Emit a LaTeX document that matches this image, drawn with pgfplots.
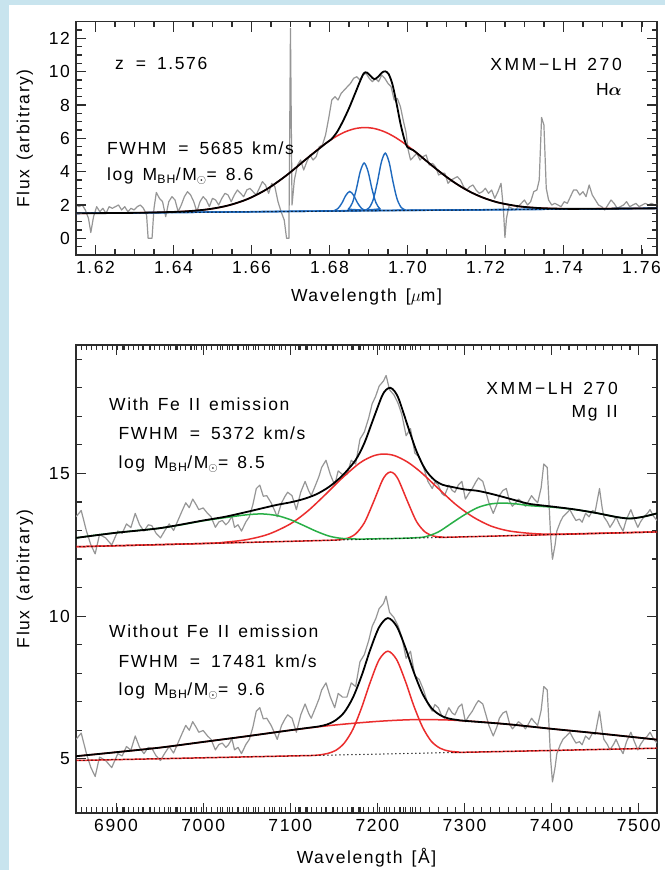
\documentclass[border=0pt]{standalone}
\usepackage{amsmath}
\usepackage{fontspec}
\setmainfont{Liberation Sans}[LetterSpace=9,WordSpace=1.4]
\usepackage{pgfplots}
\usepackage{pgfplotstable}
\pgfplotsset{compat=1.18}
\definecolor{bgblue}{RGB}{200,228,238}
\definecolor{spec}{RGB}{150,150,150}
\definecolor{fitred}{RGB}{235,45,45}
\definecolor{fitblue}{RGB}{30,105,190}
\definecolor{fitgreen}{RGB}{40,175,70}
\definecolor{axc}{RGB}{45,45,45}
\newcommand\F{\fontsize{17.5bp}{21bp}\selectfont}
\newcommand\eq{\hspace{12bp}=\hspace{11bp}}
\newcommand\eqr{=\hspace{9bp}}
\newcommand\wide[1]{{\addfontfeatures{LetterSpace=15}#1}}
\tikzset{tk/.style={draw=axc, line width=1.1bp}}

\pgfplotsset{idl/.style={
  scale only axis, anchor=south west, width=581bp,
  axis line style={draw=axc, line width=1.1bp},
  major tick length=10bp, minor tick length=5.5bp,
  tick style={draw=axc, line width=1.1bp},
  tick label style={font=\F},
  label style={font=\F},
  scaled ticks=false,
  /pgf/number format/assume math mode=true,
  xlabel style={anchor=center},
  ylabel style={anchor=center},
},
contdot/.style={black, line width=1.5bp, line cap=round, dash pattern=on 0bp off 4bp},
}

% ---------------- top panel data ----------------
\pgfplotstableread{
x y
1.6150 2.0
1.6158 1.9
1.6166 2.0
1.6174 1.7
1.6182 1.2
1.6188 0.35
1.6195 1.3
1.6203 1.9
1.6211 1.6
1.6219 1.8
1.6227 1.5
1.6235 1.9
1.6243 1.8
1.6251 1.9
1.6259 2.0
1.6267 1.7
1.6275 1.9
1.6283 1.6
1.6291 1.8
1.6299 1.7
1.6307 1.9
1.6315 2.0
1.6323 1.8
1.6331 1.4
1.6335 0.0
1.6345 0.0
1.6350 1.8
1.6356 2.75
1.6364 2.4
1.6372 2.2
1.6380 1.3
1.6388 2.2
1.6396 2.5
1.6404 2.3
1.6412 1.6
1.6420 2.0
1.6428 2.5
1.6436 2.8
1.6444 2.6
1.6452 2.2
1.6460 1.6
1.6468 2.2
1.6476 2.5
1.6484 2.3
1.6492 1.9
1.6500 2.4
1.6508 2.3
1.6516 2.0
1.6524 2.4
1.6532 2.7
1.6540 2.6
1.6548 2.2
1.6556 2.6
1.6564 2.9
1.6572 2.7
1.6580 2.5
1.6588 2.9
1.6596 3.0
1.6604 2.8
1.6612 2.6
1.6620 3.0
1.6628 3.4
1.6636 3.2
1.6644 2.7
1.6652 3.3
1.6660 3.1
1.6668 2.2
1.6676 1.6
1.6684 1.1
1.6690 0.0
1.6696 0.0
1.6700 12.6
1.6704 2.0
1.6710 3.5
1.6718 4.4
1.6726 4.7
1.6734 4.1
1.6742 4.6
1.6750 5.0
1.6758 4.7
1.6766 4.9
1.6774 5.5
1.6782 5.6
1.6790 6.2
1.6798 7.2
1.6806 8.3
1.6814 8.5
1.6822 8.3
1.6830 8.7
1.6838 8.9
1.6846 9.1
1.6854 9.3
1.6862 9.6
1.6870 9.7
1.6878 9.5
1.6886 9.8
1.6894 9.9
1.6902 9.6
1.6910 9.4
1.6918 9.6
1.6926 9.4
1.6934 9.8
1.6942 9.6
1.6950 9.3
1.6958 9.1
1.6966 8.3
1.6974 8.4
1.6982 7.9
1.6990 7.0
1.6996 6.4
1.7002 5.3
1.7008 4.7
1.7016 4.9
1.7024 5.1
1.7032 4.7
1.7040 4.9
1.7048 5.0
1.7056 4.4
1.7064 4.5
1.7072 4.3
1.7080 3.8
1.7088 3.9
1.7096 3.9
1.7104 3.3
1.7112 3.5
1.7120 3.6
1.7128 3.7
1.7136 3.5
1.7144 3.1
1.7152 2.9
1.7160 3.1
1.7168 3.2
1.7176 2.9
1.7184 2.7
1.7192 2.8
1.7200 3.0
1.7208 2.7
1.7216 2.9
1.7224 2.4
1.7232 2.8
1.7240 3.3
1.7246 1.8
1.7250 0.05
1.7254 1.2
1.7260 1.9
1.7268 1.8
1.7276 1.7
1.7284 1.9
1.7292 2.1
1.7300 2.3
1.7308 2.0
1.7316 2.2
1.7324 2.8
1.7332 2.9
1.7338 3.5
1.7344 7.25
1.7350 6.8
1.7356 3.0
1.7362 2.3
1.7370 2.0
1.7378 2.1
1.7386 2.0
1.7394 1.9
1.7402 2.2
1.7410 2.1
1.7418 2.5
1.7426 2.9
1.7434 2.9
1.7442 2.6
1.7450 2.8
1.7458 2.5
1.7466 3.2
1.7474 2.6
1.7482 2.3
1.7490 2.0
1.7498 1.9
1.7506 1.7
1.7514 2.0
1.7522 2.3
1.7530 2.1
1.7538 1.8
1.7546 1.9
1.7554 2.0
1.7562 2.2
1.7570 1.9
1.7578 2.0
1.7586 2.1
1.7594 1.9
1.7602 2.0
1.7610 2.1
1.7618 2.0
1.7626 2.1
1.7634 2.0
1.7640 2.05
}\specA

\pgfplotstableread{
x y
1.615 1.50
1.630 1.53
1.639 1.576
1.6415 1.60
1.644 1.632
1.6465 1.68
1.649 1.747
1.6515 1.841
1.654 1.97
1.6565 2.139
1.659 2.357
1.6615 2.63
1.664 2.96
1.6665 3.347
1.669 3.784
1.6715 4.258
1.674 4.75
1.6765 5.236
1.679 5.689
1.6815 6.082
1.684 6.386
1.6865 6.579
1.689 6.649
1.6915 6.589
1.694 6.406
1.6965 6.112
1.699 5.729
1.7015 5.286
1.704 4.81
1.7065 4.328
1.709 3.864
1.7115 3.437
1.714 3.06
1.7165 2.74
1.719 2.477
1.7215 2.269
1.724 2.11
1.7265 1.992
1.729 1.908
1.7315 1.852
1.734 1.814
1.7365 1.791
1.739 1.778
1.744 1.769
1.764 1.80
}\redA

\pgfplotstableread{
x y
1.615 1.50
1.630 1.53
1.639 1.576
1.644 1.632
1.649 1.747
1.654 1.97
1.659 2.357
1.664 2.96
1.669 3.784
1.674 4.75
1.679 5.689
1.6805 5.95
1.682 6.40
1.6835 7.05
1.685 7.80
1.6865 8.65
1.6878 9.40
1.6888 9.90
1.6896 9.95
1.6905 9.75
1.6915 9.55
1.6925 9.70
1.6935 9.95
1.6943 10.02
1.6952 9.85
1.6962 9.20
1.6972 8.10
1.6982 6.90
1.6992 5.95
1.7000 5.47
1.7015 5.286
1.704 4.81
1.7065 4.328
1.709 3.864
1.7115 3.437
1.714 3.06
1.7165 2.74
1.719 2.477
1.7215 2.269
1.724 2.11
1.729 1.908
1.734 1.814
1.739 1.778
1.744 1.769
1.764 1.80
}\blackA

\pgfplotstableread{
x y
1.615 1.50
1.6802 1.636
1.6812 1.666
1.6822 1.793
1.6832 2.118
1.6842 2.576
1.6852 2.811
1.6862 2.580
1.6872 2.126
1.6882 1.805
1.6892 1.682
1.6902 1.655
1.764 1.80
}\nA

\pgfplotstableread{
x y
1.615 1.50
1.6839 1.661
1.6849 1.767
1.6859 2.138
1.6869 2.959
1.6879 4.008
1.6889 4.519
1.6899 4.012
1.6909 2.967
1.6919 2.150
1.6929 1.783
1.6939 1.681
1.764 1.80
}\nB

\pgfplotstableread{
x y
1.615 1.50
1.6883 1.655
1.6893 1.696
1.6903 1.869
1.6913 2.381
1.6923 3.382
1.6933 4.560
1.6943 5.110
1.6953 4.564
1.6963 3.390
1.6973 2.393
1.6983 1.885
1.6993 1.716
1.7003 1.679
1.764 1.80
}\nC

% ---------------- bottom panel data ----------------
\pgfplotstableread{
x u l
6854 13.48 5.68
6860 13.70 5.90
6866 12.98 5.18
6871 12.50 4.70
6876 12.18 4.38
6881 12.86 5.06
6888 12.74 4.94
6895 12.49 4.69
6902 12.98 5.18
6907 12.90 5.10
6912 13.23 5.43
6917 13.10 5.30
6922 13.60 5.80
6927 13.20 5.40
6932 12.98 5.18
6937 13.20 5.40
6941 13.17 5.37
6946 12.90 5.10
6951 12.74 4.94
6956 13.00 5.20
6961 13.23 5.43
6966 13.00 5.20
6971 13.35 5.55
6976 13.70 5.90
6980 13.97 6.17
6984 13.80 6.00
6988 14.10 6.30
6992 13.90 6.10
6995 13.73 5.93
7000 13.79 5.99
7005 13.60 5.80
7009 13.48 5.68
7014 13.11 5.31
7018 13.30 5.50
7022 13.35 5.55
7026 13.20 5.40
7029 13.29 5.49
7033 13.50 5.70
7036 13.11 5.31
7040 13.20 5.40
7044 12.98 5.18
7049 13.30 5.50
7053 13.48 5.68
7057 13.90 6.10
7061 14.47 6.67
7065 14.59 6.79
7069 14.20 6.40
7073 14.22 6.42
7078 13.97 6.17
7082 13.70 5.90
7085 13.48 5.68
7090 13.97 6.17
7094 14.20 6.40
7097 14.34 6.54
7102 14.22 6.42
7107 13.73 5.93
7112 14.34 6.54
7117 14.72 6.92
7121 14.40 6.60
7124 14.22 6.42
7129 14.59 6.79
7133 14.90 7.10
7136 15.21 7.41
7141 15.46 7.66
7146 14.96 7.16
7151 14.59 6.79
7155 15.09 7.29
7160 14.96 7.16
7165 14.96 7.16
7170 15.46 7.66
7175 15.33 7.53
7180 16.20 8.40
7185 16.45 8.65
7190 16.94 9.14
7194 17.44 9.64
7198 17.70 9.90
7202 18.06 10.26
7207 18.24 10.44
7210 18.43 10.70
7214 17.93 10.13
7219 17.75 9.95
7224 17.44 9.64
7228 17.07 9.27
7233 16.32 8.52
7238 16.57 8.77
7243 15.71 7.91
7248 15.58 7.78
7253 15.21 7.41
7258 14.72 6.92
7263 14.47 6.67
7266 14.70 6.90
7270 14.59 6.79
7274 14.30 6.50
7277 14.22 6.42
7282 14.59 6.79
7286 14.40 6.60
7289 14.34 6.54
7293 14.60 6.80
7297 14.72 6.92
7301 14.10 6.30
7305 14.30 6.50
7309 14.47 6.67
7313 14.70 6.90
7316 14.84 7.04
7321 14.72 6.92
7325 14.30 6.50
7328 13.97 6.17
7333 13.60 5.80
7337 13.90 6.10
7340 14.22 6.42
7344 14.40 6.60
7348 14.47 6.67
7352 14.00 6.20
7355 13.85 6.05
7358 13.95 6.15
7362 14.10 6.30
7366 14.00 6.20
7370 13.85 6.05
7373 14.00 6.20
7377 14.22 6.42
7380 14.10 6.30
7384 13.97 6.17
7388 14.50 6.70
7391 15.33 7.53
7395 15.21 7.41
7399 12.74 4.94
7401 11.99 4.19
7404 12.50 4.70
7406 12.98 5.18
7410 13.30 5.50
7413 13.48 5.68
7417 13.60 5.80
7421 13.73 5.93
7425 13.50 5.70
7428 13.35 5.55
7432 13.40 5.60
7435 13.29 5.49
7439 13.60 5.80
7443 13.48 5.68
7447 13.70 5.90
7450 13.66 5.86
7455 14.47 6.67
7458 13.80 6.00
7460 13.48 5.68
7464 13.30 5.50
7467 13.11 5.31
7471 13.30 5.50
7474 13.48 5.68
7478 13.20 5.40
7482 12.98 5.18
7486 13.40 5.60
7491 13.73 5.93
7495 13.40 5.60
7499 13.11 5.31
7502 13.30 5.50
7506 13.48 5.68
7510 13.60 5.80
7513 13.73 5.93
7517 13.50 5.70
7521 13.35 5.55
}\specB

\pgfplotstableread{
x y
6854 12.43
7000 12.545
7025 12.59
7050 12.68
7075 12.87
7100 13.23
7120 13.68
7140 14.25
7160 14.85
7180 15.37
7195 15.61
7207 15.68
7220 15.62
7235 15.39
7250 15.04
7270 14.47
7290 13.91
7310 13.47
7330 13.16
7350 12.99
7375 12.90
7400 12.87
7450 12.90
7521 12.95
}\broadU

\pgfplotstableread{
x y
6854 12.43
7100 12.62
7145 12.657
7155 12.67
7165 12.72
7175 12.88
7185 13.27
7195 13.96
7205 14.71
7210 14.96
7215 15.05
7220 14.97
7225 14.72
7235 13.99
7245 13.31
7255 12.94
7265 12.80
7275 12.77
7290 12.77
7521 12.95
}\narrowU

\pgfplotstableread{
x y
6854 12.74
6875 12.83
6900 12.92
6925 13.00
6950 13.08
6975 13.20
7000 13.34
7025 13.45
7050 13.55
7068 13.58
7085 13.52
7100 13.38
7115 13.18
7130 12.97
7145 12.80
7160 12.72
7180 12.70
7200 12.71
7220 12.72
7240 12.74
7255 12.78
7270 12.95
7285 13.25
7300 13.55
7315 13.80
7330 13.93
7345 13.96
7360 13.93
7375 13.87
7400 13.82
7425 13.74
7450 13.62
7475 13.47
7490 13.42
7505 13.48
7521 13.60
}\feU

\pgfplotstableread{
x y
6854 12.74
6900 12.92
6950 13.08
7000 13.35
7025 13.48
7050 13.65
7068 13.78
7085 13.90
7100 13.985
7115 14.10
7130 14.27
7145 14.54
7160 14.93
7175 15.47
7185 16.06
7195 16.88
7205 17.69
7210 17.93
7215 18.00
7220 17.87
7225 17.57
7235 16.65
7245 15.77
7255 15.14
7265 14.78
7275 14.60
7285 14.53
7300 14.44
7315 14.39
7330 14.29
7345 14.17
7360 14.045
7375 13.93
7400 13.84
7425 13.745
7450 13.62
7475 13.47
7490 13.42
7505 13.48
7521 13.60
}\blackU

\pgfplotstableread{
x y
6854 5.09
6900 5.23
6950 5.39
7000 5.59
7050 5.79
7100 6.00
7150 6.18
7200 6.31
7240 6.37
7280 6.36
7320 6.29
7360 6.18
7400 6.05
7450 5.90
7500 5.74
7521 5.67
}\broadL

\pgfplotstableread{
x y
6854 4.94
7100 5.099
7122 5.113
7132 5.13
7142 5.18
7152 5.29
7162 5.55
7172 6.04
7182 6.80
7192 7.70
7202 8.47
7212 8.77
7222 8.48
7232 7.73
7242 6.84
7252 6.10
7262 5.61
7272 5.37
7282 5.27
7292 5.24
7302 5.229
7521 5.37
}\narrowL

\pgfplotstableread{
x y
6854 5.09
6900 5.23
6950 5.39
7000 5.59
7050 5.79
7100 6.00
7122 6.09
7132 6.13
7142 6.20
7152 6.35
7162 6.63
7172 7.15
7182 7.92
7192 8.84
7202 9.61
7212 9.93
7222 9.65
7232 8.91
7242 8.02
7252 7.27
7262 6.78
7272 6.53
7282 6.41
7292 6.36
7300 6.33
7350 6.21
7400 6.05
7450 5.90
7500 5.74
7521 5.67
}\blackL

\begin{document}
\F
\begin{tikzpicture}
\path[use as bounding box, fill=white] (0bp,0bp) rectangle (665bp,870bp);
\fill[bgblue] (0bp,0bp) rectangle (9bp,870bp);
\fill[bgblue] (0bp,865bp) rectangle (665bp,870bp);

% ---------- top panel ----------
\begin{axis}[idl, at={(76bp,615bp)}, height=233.3bp,
  xmin=1.615, xmax=1.764, ymin=-1, ymax=13,
  xtick={1.62,1.64,1.66,1.68,1.70,1.72,1.74,1.76},
  minor x tick num=3,
  ytick={0,2,4,6,8,10,12}, minor y tick num=3,
  xticklabel style={/pgf/number format/fixed, /pgf/number format/fixed zerofill, /pgf/number format/precision=2},
  xlabel={Wavelength [$\mu$m]}, ylabel={Flux (arbitrary)},
  xlabel style={at={(axis description cs:0.5,-0.18)}},
  ylabel style={at={(axis description cs:-0.088,0.5)}},
  extra description/.code={
    \foreach \k in {1,...,29} {
      \pgfmathsetmacro\xx{(0.005*\k)/0.149}
      \draw[tk] (rel axis cs:\xx,0) -- ++(0,5.5bp);
      \draw[tk] (rel axis cs:\xx,1) -- ++(0,-5.5bp);
    }
    \foreach \k in {0,...,7} {
      \pgfmathsetmacro\xx{(0.005+0.02*\k)/0.149}
      \draw[tk] (rel axis cs:\xx,0) -- ++(0,10bp);
      \draw[tk] (rel axis cs:\xx,1) -- ++(0,-10bp);
    }
    \foreach \k in {1,...,27} {
      \pgfmathsetmacro\yy{(0.5*\k)/14}
      \draw[tk] (rel axis cs:0,\yy) -- ++(5.5bp,0);
      \draw[tk] (rel axis cs:1,\yy) -- ++(-5.5bp,0);
    }
    \foreach \k in {0,...,6} {
      \pgfmathsetmacro\yy{(1+2*\k)/14}
      \draw[tk] (rel axis cs:0,\yy) -- ++(10bp,0);
      \draw[tk] (rel axis cs:1,\yy) -- ++(-10bp,0);
    }
  },
]
\addplot[spec, line width=1.2bp, line join=round] table[x=x,y=y] {\specA};
\addplot[fitred, line width=1.5bp, smooth] table[x=x,y=y] {\redA};
\addplot[fitblue, line width=1.4bp, smooth] table[x=x,y=y] {\nA};
\addplot[fitblue, line width=1.4bp, smooth] table[x=x,y=y] {\nB};
\addplot[fitblue, line width=1.4bp, smooth] table[x=x,y=y] {\nC};
\addplot[contdot] coordinates {(1.615,1.50) (1.764,1.80)};
\addplot[black, line width=1.8bp, smooth] table[x=x,y=y] {\blackA};
\end{axis}

% ---------- bottom panel ----------
\begin{axis}[idl, at={(76bp,57bp)}, height=468bp,
  xmin=6854, xmax=7521, ymin=3.1, ymax=19.5,
  xtick={6900,7000,7100,7200,7300,7400,7500},
  minor x tick num=9,
  ytick={5,10,15}, minor y tick num=4,
  xticklabel style={/pgf/number format/1000 sep={}},
  xlabel={Wavelength [Å]}, ylabel={Flux (arbitrary)},
  xlabel style={at={(axis description cs:0.5,-0.096)}},
  ylabel style={at={(axis description cs:-0.088,0.5)}},
  extra description/.code={
    \foreach \k in {1,...,66} {
      \pgfmathsetmacro\xx{(6*\k)/667}
      \draw[tk] (rel axis cs:\xx,0) -- ++(0,5.5bp);
      \draw[tk] (rel axis cs:\xx,1) -- ++(0,-5.5bp);
    }
    \foreach \k in {0,...,6} {
      \pgfmathsetmacro\xx{(46+100*\k)/667}
      \draw[tk] (rel axis cs:\xx,0) -- ++(0,10bp);
      \draw[tk] (rel axis cs:\xx,1) -- ++(0,-10bp);
    }
    \foreach \k in {4,...,19} {
      \pgfmathsetmacro\yy{(\k-3.1)/16.4}
      \draw[tk] (rel axis cs:0,\yy) -- ++(5.5bp,0);
      \draw[tk] (rel axis cs:1,\yy) -- ++(-5.5bp,0);
    }
    \foreach \k in {5,10,15} {
      \pgfmathsetmacro\yy{(\k-3.1)/16.4}
      \draw[tk] (rel axis cs:0,\yy) -- ++(10bp,0);
      \draw[tk] (rel axis cs:1,\yy) -- ++(-10bp,0);
    }
  },
]
\addplot[spec, line width=1.2bp, line join=round] table[x=x,y=u] {\specB};
\addplot[spec, line width=1.2bp, line join=round] table[x=x,y=l] {\specB};
\addplot[fitred, line width=1.5bp, smooth] table[x=x,y=y] {\broadU};
\addplot[fitred, line width=1.5bp, smooth] table[x=x,y=y] {\narrowU};
\addplot[fitgreen, line width=1.5bp, smooth] table[x=x,y=y] {\feU};
\addplot[contdot] coordinates {(6854,12.43) (7521,12.95)};
\addplot[black, line width=1.8bp, smooth] table[x=x,y=y] {\blackU};
\addplot[fitred, line width=1.5bp, smooth] table[x=x,y=y] {\broadL};
\addplot[fitred, line width=1.5bp, smooth] table[x=x,y=y] {\narrowL};
\addplot[contdot] coordinates {(6854,4.94) (7521,5.37)};
\addplot[black, line width=1.8bp, smooth] table[x=x,y=y] {\blackL};
\end{axis}

\begin{scope}[every node/.style={inner sep=0pt, font=\F}]
% top panel annotations
\node[anchor=base west] at (115bp,800bp) {z\eq 1.576};
\node[anchor=base east] at (622bp,799.5bp) {\wide{XMM−LH 270}};
\node[anchor=base east] at (622bp,774bp) {H$\boldsymbol{\alpha}$};
\node[anchor=base west] at (107bp,715bp) {FWHM\eq 5685 km/s};
\node[anchor=base west] at (107bp,689.5bp) {log M\textsubscript{BH}/M\textsubscript{$\odot$}\eqr 8.6};
% bottom panel annotations
\node[anchor=base east] at (618bp,475.5bp) {\wide{XMM−LH 270}};
\node[anchor=base east] at (618bp,452bp) {Mg II};
\node[anchor=base west] at (109bp,459bp) {With Fe II emission};
\node[anchor=base west] at (118.5bp,430.5bp) {FWHM\eq 5372 km/s};
\node[anchor=base west] at (118.5bp,401.5bp) {log M\textsubscript{BH}/M\textsubscript{$\odot$}\eqr 8.5};
\node[anchor=base west] at (109bp,232bp) {Without Fe II emission};
\node[anchor=base west] at (118.5bp,202.5bp) {FWHM\eq 17481 km/s};
\node[anchor=base west] at (118.5bp,174bp) {log M\textsubscript{BH}/M\textsubscript{$\odot$}\eqr 9.6};
\end{scope}
\end{tikzpicture}
\end{document}
